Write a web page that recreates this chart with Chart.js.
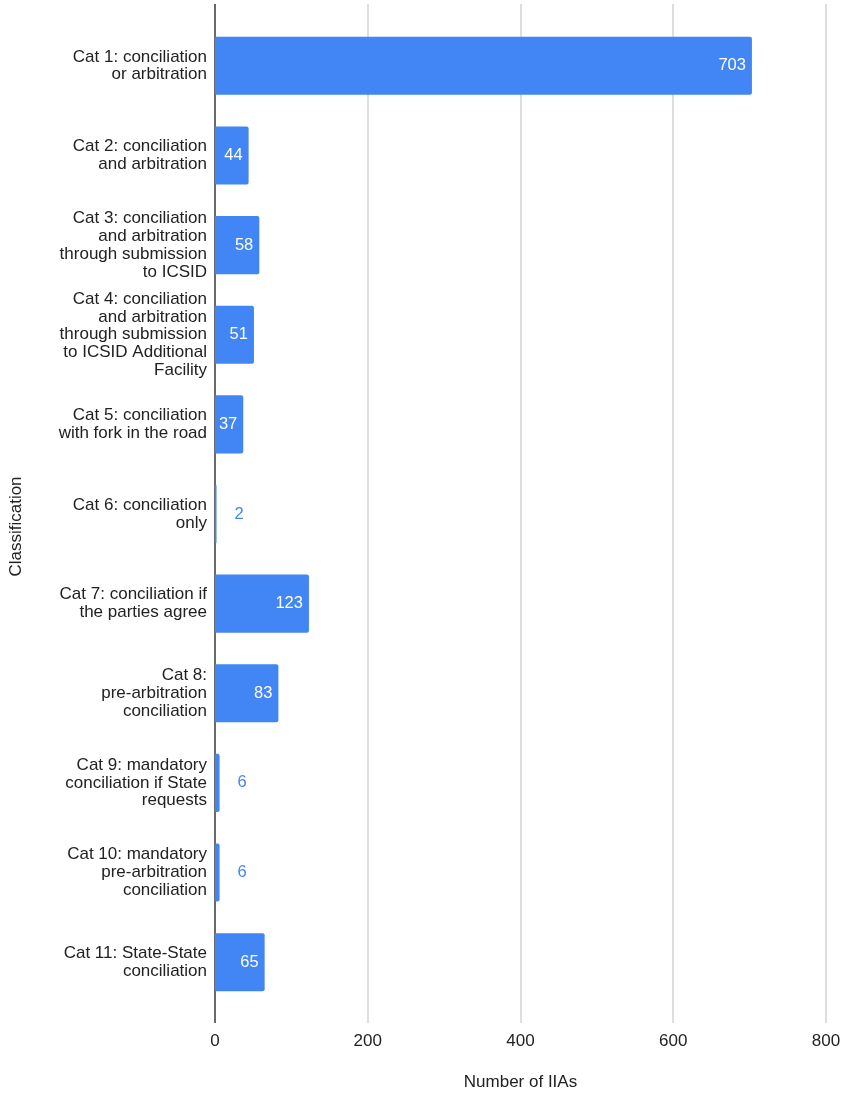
<!DOCTYPE html>
<html>
<head>
<meta charset="utf-8">
<script src="https://cdn.jsdelivr.net/npm/chart.js@4.4.1/dist/chart.umd.min.js"></script>
<style>
  html, body { margin: 0; padding: 0; background: #fff; }
  #wrap { width: 843px; height: 1093px; position: relative; }
</style>
</head>
<body>
<div id="wrap"><canvas id="c" width="843" height="1093"></canvas></div>
<script>
const categories = [
  ["Cat 1: conciliation", "or arbitration"],
  ["Cat 2: conciliation", "and arbitration"],
  ["Cat 3: conciliation", "and arbitration", "through submission", "to ICSID"],
  ["Cat 4: conciliation", "and arbitration", "through submission", "to ICSID Additional", "Facility"],
  ["Cat 5: conciliation", "with fork in the road"],
  ["Cat 6: conciliation", "only"],
  ["Cat 7: conciliation if", "the parties agree"],
  ["Cat 8:", "pre-arbitration", "conciliation"],
  ["Cat 9: mandatory", "conciliation if State", "requests"],
  ["Cat 10: mandatory", "pre-arbitration", "conciliation"],
  ["Cat 11: State-State", "conciliation"]
];
const numberOfIIAs = [703, 44, 58, 51, 37, 2, 123, 83, 6, 6, 65];
const xTickValues = [0, 200, 400, 600, 800];
const xAxisTitle = "Number of IIAs";
const yAxisTitle = "Classification";

const FONT = "'Liberation Sans', Arial, Helvetica, sans-serif";
const BLUE = "#4285F4";

const gridPlugin = {
  id: 'gridExt',
  beforeDatasetsDraw(chart) {
    const {ctx, chartArea, scales: {x}} = chart;
    const top = chartArea.top - 17, bottom = chartArea.bottom + 16;
    ctx.save();
    x.ticks.forEach(t => {
      const px = Math.round(x.getPixelForValue(t.value));
      ctx.beginPath();
      if (t.value === 0) { ctx.strokeStyle = '#444'; ctx.lineWidth = 1.6; }
      else { ctx.strokeStyle = '#d6d6d6'; ctx.lineWidth = 1.6; }
      ctx.moveTo(px, top);
      ctx.lineTo(px, bottom);
      ctx.stroke();
    });
    ctx.restore();
  },
  afterDraw(chart) {
    const {ctx, chartArea} = chart;
    ctx.save();
    ctx.translate(16, (chartArea.top - 17 + chartArea.bottom + 16) / 2 + 13);
    ctx.rotate(-Math.PI / 2);
    ctx.fillStyle = '#222';
    ctx.font = '17px ' + FONT;
    ctx.textAlign = 'center';
    ctx.textBaseline = 'middle';
    ctx.fillText(yAxisTitle, 0, 0);
    ctx.restore();
  }
};

const labelPlugin = {
  id: 'barLabels',
  afterDatasetsDraw(chart) {
    const {ctx} = chart;
    const meta = chart.getDatasetMeta(0);
    ctx.save();
    ctx.font = '16.5px ' + FONT;
    ctx.textBaseline = 'middle';
    meta.data.forEach((el, i) => {
      const v = chart.data.datasets[0].data[i];
      const w = el.x - el.base;
      if (w > 20) {
        ctx.fillStyle = '#ffffff';
        ctx.textAlign = 'right';
        ctx.fillText(String(v), el.x - 6, el.y);
      } else {
        ctx.fillStyle = BLUE;
        ctx.textAlign = 'left';
        ctx.fillText(String(v), el.x + 18, el.y);
      }
    });
    ctx.restore();
  }
};

new Chart(document.getElementById('c'), {
  type: 'bar',
  data: {
    labels: categories,
    datasets: [{
      data: numberOfIIAs,
      backgroundColor: BLUE,
      categoryPercentage: 1,
      barPercentage: 0.648,
      borderRadius: 2,
      borderSkipped: 'start'
    }]
  },
  options: {
    indexAxis: 'y',
    responsive: false,
    animation: false,
    events: [],
    layout: { padding: { top: 21, right: 17, bottom: 0, left: 0 } },
    plugins: { legend: { display: false }, tooltip: { enabled: false } },
    scales: {
      x: {
        type: 'linear',
        min: 0,
        max: 800,
        afterFit(s) { s.height = 86; s.paddingLeft = 0; s.paddingRight = 0; },
        afterBuildTicks(s) { s.ticks = xTickValues.map(v => ({value: v})); },
        grid: { display: false, drawTicks: false },
        border: { display: false },
        ticks: { color: '#222', font: { family: FONT, size: 17 }, padding: 24, maxRotation: 0 },
        title: { display: true, text: xAxisTitle, color: '#222', font: { family: FONT, size: 17, lineHeight: 1.2 }, padding: { top: 0, bottom: 0 } }
      },
      y: {
        type: 'category',
        offset: true,
        afterFit(s) { s.width = 215; s.paddingTop = 0; s.paddingBottom = 0; },
        grid: { display: false, drawTicks: false },
        border: { display: false },
        ticks: { color: '#222', font: { family: FONT, size: 17, lineHeight: 1.05 }, padding: 8, autoSkip: false }
      }
    }
  },
  plugins: [gridPlugin, labelPlugin]
});
</script>
</body>
</html>
